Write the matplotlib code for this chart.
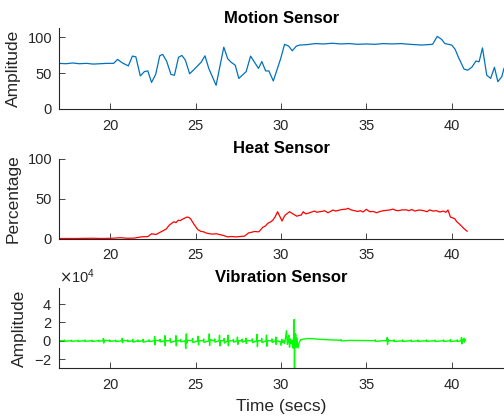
import numpy as np
import matplotlib
matplotlib.use('Agg')
import matplotlib.pyplot as plt
from matplotlib.ticker import ScalarFormatter

# motion sensor samples
motion_t = [17.0, 17.4, 17.8, 18.2, 18.6, 19.0, 19.4, 19.8, 20.2, 20.43, 20.72, 21.06, 21.3, 21.5,
            21.76, 22.0, 22.2, 22.42, 22.66, 22.9, 23.07, 23.3, 23.56, 23.76, 24.0, 24.2, 24.4, 24.65,
            24.93, 25.32, 25.55, 25.77, 26.2, 26.65, 26.88, 27.08, 27.32, 27.53, 27.96, 28.22, 28.68,
            28.88, 29.1, 29.29, 29.55, 29.98, 30.21, 30.45, 30.66, 30.9, 31.1, 31.5, 32.0, 32.5, 33.0,
            33.5, 34.0, 34.5, 35.0, 35.5, 36.0, 36.5, 37.0, 37.55, 38.23, 38.88, 39.15, 39.4, 39.6,
            40.0, 40.2, 40.38, 40.72, 40.93, 41.17, 41.42, 41.6, 41.8, 42.05, 42.28, 42.5, 42.7,
            42.93, 43.06, 43.3]
motion_v = [63.5, 63, 64, 63, 63.5, 62.5, 63, 63.5, 63.5, 69, 64, 60, 73.6, 72.6,
            46, 52, 53, 37, 48, 74, 76, 66.7, 48, 47, 72, 74.5, 68, 49,
            55.5, 65, 74, 56.5, 33, 86, 70, 65, 61, 42.6, 52, 73.6, 56.5,
            66, 53, 53, 39, 70, 90, 87.5, 81, 87.5, 89, 89.5, 91, 90.5, 91.5,
            90.5, 91, 90, 90.5, 90, 91, 90.5, 91, 90, 89, 90, 101, 97, 91,
            89, 83, 72.6, 55.5, 54, 58, 66.7, 65.7, 85, 47, 42.6, 58, 38,
            45, 56.5, 62]

# heat sensor samples (percentage)
heat_t = [17.0, 18.0, 19.0, 19.5, 20.0, 20.6, 21.0, 21.4, 21.8, 22.2, 22.42, 22.68, 22.97, 23.27,
          23.46, 23.72, 23.85, 23.99, 24.1, 24.24, 24.35, 24.5, 24.6, 24.7, 24.9, 25.12, 25.3,
          25.47, 25.6, 25.8, 26.0, 26.2, 26.4, 26.6, 26.88, 27.1, 27.38, 27.6, 27.86, 28.1, 28.3,
          28.45, 28.7, 28.93, 29.1, 29.22, 29.4, 29.52, 29.65, 29.8, 29.95, 30.06, 30.15, 30.25,
          30.5, 30.7, 30.93, 31.05, 31.19, 31.3, 31.45, 31.57, 31.75, 31.96, 32.1, 32.26, 32.4,
          32.55, 32.75, 32.9, 33.04, 33.2, 33.44, 33.6, 33.83, 33.93, 34.1, 34.3, 34.5, 34.65,
          34.8, 35.0, 35.2, 35.4, 35.6, 35.8, 36.0, 36.2, 36.4, 36.56, 36.7, 36.86, 37.1, 37.35,
          37.5, 37.65, 37.84, 38.0, 38.13, 38.35, 38.56, 38.7, 38.9, 39.1, 39.3, 39.5, 39.65,
          39.78, 39.92, 40.05, 40.17, 40.3, 40.46, 40.6, 40.7, 40.9]
heat_v = [0, 0, 0.3, 0, 0.2, 1.0, 0.3, 0.5, 2, 2.4, 6, 5, 8.4, 11.8,
          16.8, 21, 20, 23, 22.5, 24.4, 25.5, 27, 26.5, 25, 18, 11.4, 9,
          8.4, 7, 6, 5.5, 6, 5, 4, 2, 2.5, 2, 2.5, 3, 7, 8,
          8.8, 8.4, 14, 16, 19, 21, 23, 27, 33.7, 27, 22, 26, 29.5,
          33.7, 31, 28, 29, 29.5, 33.7, 31, 31.6, 33, 34.5, 33, 33.7, 34,
          35, 32.4, 34, 35.8, 34.5, 35.8, 36.5, 37, 38, 36, 35, 34, 35,
          33.3, 36.7, 33.7, 34, 32.4, 34, 35, 35.5, 36, 37, 35.5, 35, 36, 36,
          35, 36.5, 34.5, 35.5, 35.8, 35, 33.7, 36, 34.5, 35, 33.3, 34.5, 33,
          35.8, 27, 26, 25, 21, 18, 15, 12.7, 9.2]

# vibration sensor samples (time, raw amplitude)
vib_samples = [
    (17.0, 0),
    (17.3, 0), (17.32, 700), (17.34, -500),
    (17.7, 0), (17.72, 600), (17.74, -600),
    (18.1, 0), (18.12, 500), (18.14, -500),
    (18.5, 0), (18.52, 800), (18.54, -600),
    (18.9, 0), (18.92, 600), (18.94, -700),
    (19.3, 0), (19.32, 600), (19.34, -500),
    (19.58, 0), (19.6, 2500), (19.62, -2500), (19.64, 500),
    (19.95, 0), (19.97, 900), (19.99, -700),
    (20.3, 0), (20.32, 700), (20.34, -800),
    (20.68, 0), (20.7, 2500), (20.72, -2200), (20.74, 300),
    (21.0, 0), (21.02, 900), (21.04, -800),
    (21.3, 0), (21.32, 1500), (21.34, -1500),
    (21.6, 0), (21.62, 900), (21.64, -700),
    (21.9, 0), (21.92, 1500), (21.94, -1600),
    (22.25, 0), (22.27, 1000), (22.29, -900),
    (22.58, 0), (22.6, 4500), (22.62, -4500), (22.64, 500),
    (22.9, 0), (22.92, 1500), (22.94, -1200),
    (23.18, 0), (23.2, 5500), (23.22, -5500), (23.24, 0),
    (23.5, 0), (23.52, 2500), (23.54, -2000),
    (23.83, 0), (23.85, 5500), (23.87, -5500), (23.89, 0),
    (24.1, 0), (24.12, 1500), (24.14, -1200),
    (24.38, 0), (24.4, -3000), (24.42, -8500), (24.44, 3000), (24.46, 7500), (24.48, -2500),
    (24.52, 500),
    (24.8, 0), (24.82, 2500), (24.84, -2000),
    (25.13, 0), (25.15, 5000), (25.17, -4500), (25.19, 0),
    (25.45, 0), (25.47, 2000), (25.49, -1800),
    (25.78, 0), (25.8, 7500), (25.82, -5000), (25.84, 1000),
    (26.1, 0), (26.12, 2000), (26.14, -1500),
    (26.38, 0), (26.4, 6000), (26.42, -5500), (26.44, 0),
    (26.65, 0), (26.67, 2500), (26.69, -2500),
    (26.88, 0), (26.9, 6000), (26.92, -5500), (26.94, 0),
    (27.2, 0), (27.22, 1500), (27.24, -1500),
    (27.43, 0), (27.45, 4000), (27.47, -4000), (27.49, 0),
    (27.7, 0), (27.72, 1800), (27.74, -1500),
    (27.93, 0), (27.95, 3000), (27.97, -3000), (27.99, 0),
    (28.3, 0), (28.32, 2000), (28.34, -2000),
    (28.58, 0), (28.6, 7000), (28.62, -6500), (28.64, 0),
    (28.85, 0), (28.87, 2500), (28.89, -2000),
    (29.13, 0), (29.15, 6000), (29.17, -6000), (29.19, 0),
    (29.45, 0), (29.47, 2000), (29.49, -1800),
    (29.68, 0), (29.7, 4000), (29.72, -4000), (29.74, 0),
    (29.95, -1000), (30.0, -5000), (30.05, 1500), (30.1, -2000), (30.15, 500), (30.2, -3000),
    (30.25, 1000), (30.32, 11000), (30.35, 2000), (30.38, -4000), (30.42, 1500), (30.46, 6000),
    (30.5, -7000), (30.55, 2000), (30.6, -3000), (30.65, 500), (30.7, -8000), (30.74, 3000),
    (30.77, 23000), (30.79, -50000), (30.81, 8000), (30.83, -6000), (30.86, 7000),
    (30.89, -7500), (30.92, 3000), (30.95, -3000), (31.0, -8000), (31.05, -2500),
    (31.1, -1000), (31.15, 1000),
    (31.25, 1500), (31.4, 2000), (31.6, 2500), (31.8, 2300), (32.0, 2000), (32.3, 1500),
    (32.6, 1200), (32.9, 900), (33.2, 700), (33.5, 500), (33.52, 1200), (33.54, -200),
    (34.0, 400), (34.5, 300), (35.0, 200), (35.5, 100), (35.52, 1000), (35.54, -600),
    (36.0, 100),
    (36.2, 0), (36.22, 3500), (36.24, -4000), (36.26, 1500), (36.28, 0),
    (36.6, 0), (36.62, 1000), (36.64, -800),
    (37.1, 0), (37.12, 800), (37.14, -700),
    (37.6, 0), (37.62, 900), (37.64, -800),
    (38.0, 0), (38.02, 700), (38.04, -700),
    (38.5, 0), (38.52, 800), (38.54, -600),
    (39.0, 0), (39.02, 700), (39.04, -800),
    (39.5, 0), (39.52, 900), (39.54, -700),
    (39.9, 0), (39.92, 1200), (39.94, -900),
    (40.3, 0), (40.32, 1000), (40.34, -800),
    (40.55, 0), (40.57, 3500), (40.59, -3500), (40.61, 1500),
    (40.7, 0), (40.72, 2500), (40.74, -1500), (40.8, 1000),
]
vib_t, vib_v = zip(*vib_samples)

xticks = [20, 25, 30, 35, 40]

plt.rcParams['font.family'] = ['Liberation Sans', 'DejaVu Sans']
plt.rcParams['axes.edgecolor'] = '#262626'
plt.rcParams['xtick.color'] = '#262626'
plt.rcParams['ytick.color'] = '#262626'
plt.rcParams['xtick.direction'] = 'in'
plt.rcParams['ytick.direction'] = 'in'

fig = plt.figure(figsize=(5.04, 4.17), dpi=100)
W, H = 504.0, 417.0


def make_axes(top_px, bottom_px):
    left = 59 / W
    ax = fig.add_axes([left, 1 - bottom_px / H, 1 - left, (bottom_px - top_px) / H])
    ax.spines['top'].set_visible(False)
    ax.spines['right'].set_visible(False)
    ax.set_xlim(17, 43.06)
    ax.set_xticks(xticks)
    ax.tick_params(labelsize=10.5, length=4, width=0.6)
    ax.tick_params(axis='x', pad=7)
    ax.tick_params(axis='y', pad=5)
    for s in ax.spines.values():
        s.set_linewidth(0.8)
    return ax


ax1 = make_axes(28.5, 109)
ax1.plot(motion_t, motion_v, color=(0, 0.447, 0.741), lw=0.9)
ax1.set_ylim(0, 112)
ax1.set_yticks([0, 50, 100])
ax1.set_ylabel('Amplitude', fontsize=12.5, color='#262626', labelpad=5)
ax1.set_title('Motion Sensor', fontsize=12, fontweight='bold', pad=4)

ax2 = make_axes(159, 238.5)
ax2.plot(heat_t, heat_v, color='red', lw=0.9)
ax2.set_ylim(0, 100)
ax2.set_yticks([0, 50, 100])
ax2.set_ylabel('Percentage', fontsize=12.5, color='#262626', labelpad=5)
ax2.set_title('Heat Sensor', fontsize=12, fontweight='bold', pad=4)

ax3 = make_axes(287.5, 368.3)
ax3.plot(vib_t, vib_v, color=(0, 1, 0), lw=1.0)
ax3.set_ylim(-30000, 58000)
ax3.set_yticks([-20000, 0, 20000, 40000])
fmt = ScalarFormatter(useMathText=True)
fmt.set_powerlimits((0, 0))
ax3.yaxis.set_major_formatter(fmt)
ax3.yaxis.get_offset_text().set_fontsize(10.5)
ax3.yaxis.get_offset_text().set_color('#262626')
ax3.set_ylabel('Amplitude', fontsize=12.5, color='#262626', labelpad=5)
ax3.set_xlabel('Time (secs)', fontsize=12.5, color='#262626', labelpad=5)
ax3.set_title('Vibration Sensor', fontsize=12, fontweight='bold', pad=4)

fig.savefig('out.png', dpi=100)
